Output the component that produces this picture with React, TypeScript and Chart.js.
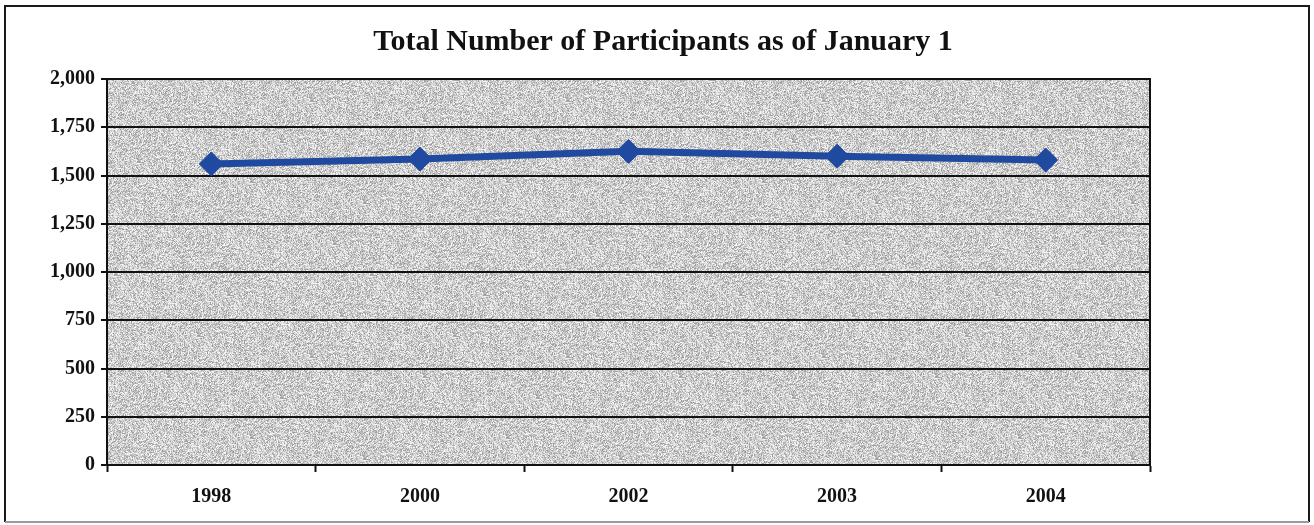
import React, { useEffect, useRef } from "react";
import { Chart, registerables } from "chart.js";

Chart.register(...registerables);

const years = ["1998", "2000", "2002", "2003", "2004"];
const participants = [1560, 1585, 1625, 1600, 1580];
const yTicks = [0, 250, 500, 750, 1000, 1250, 1500, 1750, 2000];
const chartTitle = "Total Number of Participants as of January 1";

const SERIF = "'Liberation Serif', 'Times New Roman', serif";

// Speckled grey fill for the plot area (seeded so every render is identical)
function makeSpecklePattern(ctx: CanvasRenderingContext2D): CanvasPattern | string {
  const size = 256;
  const tile = document.createElement("canvas");
  tile.width = size;
  tile.height = size;
  const tctx = tile.getContext("2d");
  if (!tctx) return "#c4c4c4";
  const img = tctx.createImageData(size, size);
  let seed = 12345;
  const rnd = () => {
    seed = (seed * 1103515245 + 12345) & 0x7fffffff;
    return seed / 0x7fffffff;
  };
  for (let i = 0; i < size * size; i++) {
    const r = rnd();
    let g: number;
    if (r < 0.3) g = 150 + rnd() * 40;
    else if (r < 0.7) g = 192 + rnd() * 30;
    else g = 222 + rnd() * 30;
    img.data[i * 4] = g;
    img.data[i * 4 + 1] = g;
    img.data[i * 4 + 2] = g;
    img.data[i * 4 + 3] = 255;
  }
  tctx.putImageData(img, 0, 0);
  return ctx.createPattern(tile, "repeat") || "#c4c4c4";
}

const framePlugin = {
  id: "frame",
  beforeDraw(chart: any) {
    const { ctx, chartArea, width, height } = chart;
    ctx.save();
    ctx.fillStyle = "#ffffff";
    ctx.fillRect(0, 0, width, height);
    // outer frame around the whole figure
    ctx.strokeStyle = "#1a1a1a";
    ctx.lineWidth = 2;
    ctx.beginPath();
    ctx.moveTo(5, 522);
    ctx.lineTo(5, 6);
    ctx.lineTo(1309, 6);
    ctx.lineTo(1309, 522);
    ctx.stroke();
    ctx.strokeStyle = "#9a9a9a";
    ctx.beginPath();
    ctx.moveTo(5, 522);
    ctx.lineTo(1309, 522);
    ctx.stroke();
    // title, centred on the figure
    ctx.fillStyle = "#111111";
    ctx.font = `bold 30px ${SERIF}`;
    ctx.textAlign = "center";
    ctx.textBaseline = "alphabetic";
    ctx.fillText(chartTitle, 663, 50);
    // speckled plot background
    ctx.fillStyle = makeSpecklePattern(ctx);
    ctx.fillRect(
      chartArea.left,
      chartArea.top,
      chartArea.right - chartArea.left,
      chartArea.bottom - chartArea.top
    );
    ctx.restore();
  },
  beforeDatasetsDraw(chart: any) {
    const { ctx, chartArea } = chart;
    ctx.save();
    ctx.strokeStyle = "#111111";
    ctx.lineWidth = 2;
    ctx.strokeRect(
      chartArea.left,
      chartArea.top,
      chartArea.right - chartArea.left,
      chartArea.bottom - chartArea.top
    );
    ctx.restore();
  },
};

export default function App() {
  const canvasRef = useRef<HTMLCanvasElement | null>(null);

  useEffect(() => {
    document.body.style.margin = "0";
    const canvas = canvasRef.current;
    if (!canvas) return;
    const chart = new Chart(canvas, {
      type: "line",
      data: {
        labels: years,
        datasets: [
          {
            label: "Participants",
            data: participants,
            borderColor: "#1f4aa0",
            backgroundColor: "#1f4aa0",
            borderWidth: 7,
            pointStyle: "rectRot",
            pointRadius: 12,
            pointHoverRadius: 12,
            pointBackgroundColor: "#1f4aa0",
            pointBorderColor: "#1f4aa0",
            pointBorderWidth: 1,
            tension: 0,
          },
        ],
      },
      plugins: [framePlugin],
      options: {
        animation: false,
        responsive: false,
        events: [],
        layout: { padding: { top: 79, left: 0, right: 164, bottom: 0 } },
        plugins: {
          legend: { display: false },
          tooltip: { enabled: false },
          title: { display: false },
        },
        scales: {
          x: {
            type: "category",
            offset: true,
            grid: {
              offset: true,
              drawOnChartArea: false,
              drawTicks: true,
              tickLength: 7,
              tickWidth: 2,
              tickColor: "#111111",
            },
            border: { display: true, color: "#111111", width: 2 },
            ticks: {
              color: "#111111",
              padding: 13,
              font: { family: SERIF, size: 20, weight: "bold" },
            },
            afterFit(scale: any) {
              scale.height = 60;
            },
          },
          y: {
            min: 0,
            max: 2000,
            afterBuildTicks(scale: any) {
              scale.ticks = yTicks.map((v) => ({ value: v }));
            },
            grid: {
              color: "#111111",
              lineWidth: 2,
              drawTicks: true,
              tickLength: 6,
            },
            border: { display: true, color: "#111111", width: 2 },
            ticks: {
              color: "#111111",
              padding: 6,
              font: { family: SERIF, size: 20, weight: "bold" },
              callback: (v: any) => Number(v).toLocaleString("en-US"),
            },
            afterFit(scale: any) {
              scale.width = 107;
            },
          },
        },
      },
    });
    return () => chart.destroy();
  }, []);

  return (
    <div style={{ position: "absolute", left: 0, top: 0, width: 1314, height: 525, background: "#fff" }}>
      <canvas ref={canvasRef} width={1314} height={525} style={{ width: 1314, height: 525 }} />
    </div>
  );
}
